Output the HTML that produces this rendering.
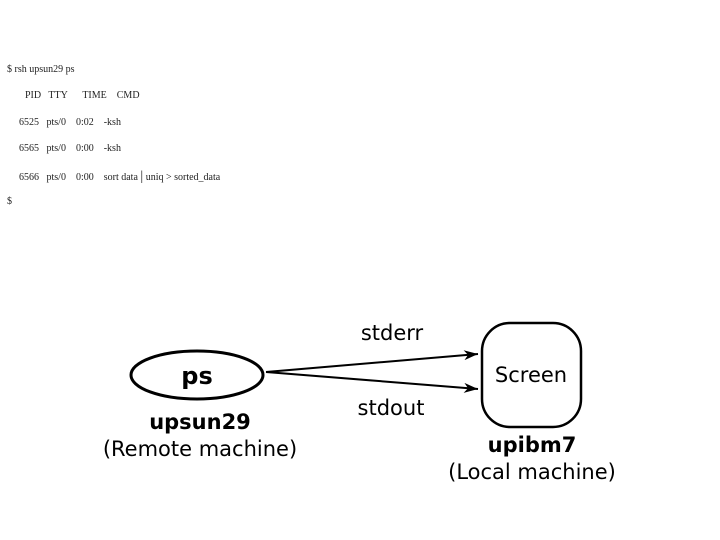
<!DOCTYPE html>
<html><head><meta charset="utf-8"><style>
body{margin:0;width:720px;height:540px;background:#fff;overflow:hidden;position:relative}
.t{position:absolute;font-family:"Liberation Serif",serif;font-size:10px;color:#222;white-space:pre}
</style></head><body>
<div class="t" style="left:7px;top:64px">$ rsh upsun29 ps</div>
<div class="t" style="left:25px;top:90px">PID   TTY      TIME    CMD</div>
<div class="t" style="left:19px;top:117px">6525   pts/0    0:02    -ksh</div>
<div class="t" style="left:19px;top:143px">6565   pts/0    0:00    -ksh</div>
<div class="t" style="left:19px;top:169px">6566   pts/0    0:00    sort data <span style="font-size:14px">|</span> uniq &gt; sorted_data</div>
<div class="t" style="left:7px;top:196px">$</div>
<svg width="720" height="540" style="position:absolute;left:0;top:0" font-family="DejaVu Sans, Liberation Sans, sans-serif">
<defs><marker id="a" markerWidth="14" markerHeight="10" refX="14" refY="5" orient="auto" markerUnits="userSpaceOnUse"><path d="M0,0 L14,5 L0,10 L4,5 Z" fill="#000"/></marker></defs>
<ellipse cx="197" cy="375" rx="66" ry="24" fill="none" stroke="#000" stroke-width="3"/>
<text x="197" y="384" text-anchor="middle" font-size="24" font-weight="bold">ps</text>
<rect x="482" y="323" width="99" height="104" rx="28" fill="none" stroke="#000" stroke-width="2.5"/>
<text x="531" y="382" text-anchor="middle" font-size="21">Screen</text>
<line x1="266" y1="372" x2="478" y2="354" stroke="#000" stroke-width="2" marker-end="url(#a)"/>
<line x1="266" y1="372" x2="478" y2="389" stroke="#000" stroke-width="2" marker-end="url(#a)"/>
<text x="392" y="340" text-anchor="middle" font-size="21">stderr</text>
<text x="391" y="415" text-anchor="middle" font-size="21">stdout</text>
<text x="200" y="429" text-anchor="middle" font-size="21" font-weight="bold">upsun29</text>
<text x="200" y="456" text-anchor="middle" font-size="21">(Remote machine)</text>
<text x="532" y="452" text-anchor="middle" font-size="21" font-weight="bold">upibm7</text>
<text x="532" y="479" text-anchor="middle" font-size="21">(Local machine)</text>
</svg>
</body></html>
